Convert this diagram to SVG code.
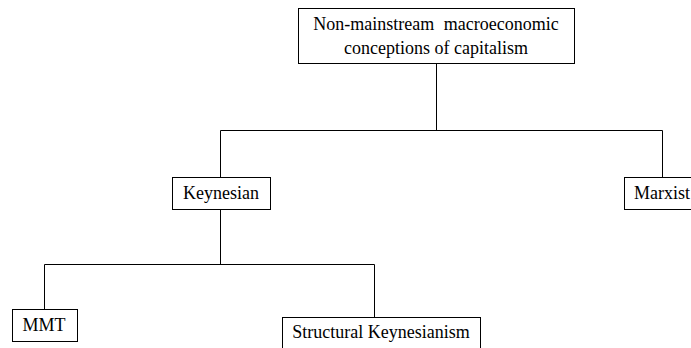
<svg xmlns="http://www.w3.org/2000/svg" width="691" height="348" viewBox="0 0 691 348">
<style>
.box{fill:#fff;stroke:#000;stroke-width:1}
.lbl{font-family:"Liberation Serif","Times New Roman",serif;font-size:18px;fill:#000;text-anchor:middle}
.conn{fill:none;stroke:#000;stroke-width:1}
</style>
<rect width="691" height="348" fill="#fff"/>
<g id="connectors">
<path class="conn" d="M436.5 63 V130.5 M220.5 130.5 H662.5 M220.5 130.5 V177 M662.5 130.5 V177"/>
<path class="conn" d="M220.5 209 V264.5 M44.5 264.5 H374.5 M44.5 264.5 V309 M374.5 264.5 V317"/>
</g>
<g id="root">
<rect class="box" x="298.5" y="8.5" width="276" height="55"/>
<text class="lbl" x="436" y="30" word-spacing="5">Non-mainstream macroeconomic</text>
<text class="lbl" x="436" y="54">conceptions of capitalism</text>
</g>
<g id="keynesian">
<rect class="box" x="172.5" y="177.5" width="98" height="32"/>
<text class="lbl" x="221" y="199">Keynesian</text>
</g>
<g id="marxist">
<rect class="box" x="624.5" y="177.5" width="76" height="32"/>
<text class="lbl" x="662" y="199">Marxist</text>
</g>
<g id="mmt">
<rect class="box" x="12.5" y="309.5" width="65" height="32"/>
<text class="lbl" x="44" y="331">MMT</text>
</g>
<g id="structural">
<rect class="box" x="282.5" y="317.5" width="198" height="40"/>
<text class="lbl" x="381" y="338">Structural Keynesianism</text>
</g>
</svg>
